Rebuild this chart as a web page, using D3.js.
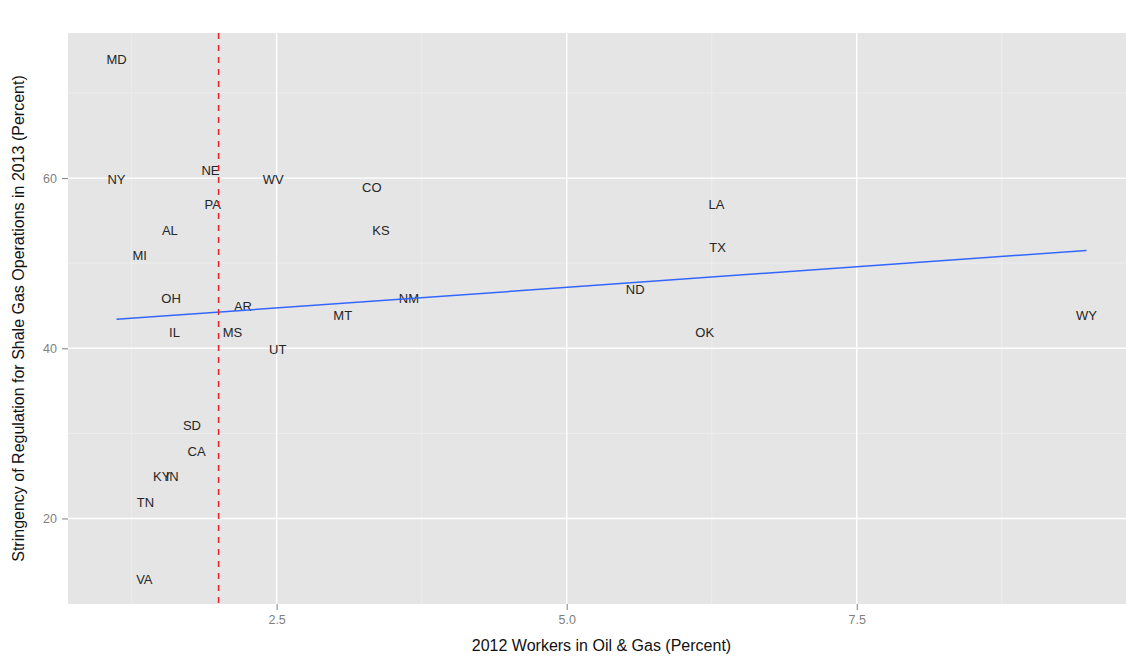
<!DOCTYPE html>
<html><head><meta charset="utf-8">
<script src="https://cdn.jsdelivr.net/npm/d3@7"></script>
<style>body{margin:0;background:#fff;}svg{display:block;font-family:"Liberation Sans",Arial,sans-serif;}</style>
</head><body>
<svg id="c" width="1126" height="662"></svg>
<script>
const states = ["MD","NY","NE","WV","PA","CO","AL","KS","MI","LA","TX","OH","AR","NM","ND","MT","WY","IL","MS","OK","UT","SD","CA","KY","IN","TN","VA"];
const workers = [1.12,1.12,1.93,2.47,1.95,3.32,1.58,3.40,1.32,6.29,6.30,1.59,2.21,3.64,5.59,3.07,9.48,1.62,2.12,6.19,2.51,1.77,1.81,1.51,1.60,1.37,1.36];
const stringency = [74,60,61,60,57,59,54,54,51,57,52,46,45,46,47,44,44,42,42,42,40,31,28,25,25,22,13];
const xTicks = [2.5,5.0,7.5];
const xTickLabels = ["2.5","5.0","7.5"];
const yTicks = [20,40,60];
const yTickLabels = ["20","40","60"];
const fitEnds = [[1.12,43.4],[9.48,51.5]];
const vline = 2;

const svg = d3.select("#c");
const m = {l:68, t:33, r:1135, b:604};
const x = d3.scaleLinear().domain([0.702,9.898]).range([m.l,m.r]);
const y = d3.scaleLinear().domain([9.95,77.05]).range([m.b,m.t]);

svg.append("rect").attr("x",m.l).attr("y",m.t).attr("width",m.r-m.l).attr("height",m.b-m.t).attr("fill","#e5e5e5");
const g = svg.append("g");
const minorX = [1.25,3.75,6.25,8.75], minorY=[30,50,70];
g.selectAll(".mx").data(minorX).enter().append("line").attr("x1",d=>x(d)).attr("x2",d=>x(d)).attr("y1",m.t).attr("y2",m.b).attr("stroke","#f2f2f2").attr("stroke-width",0.6);
g.selectAll(".my").data(minorY).enter().append("line").attr("y1",d=>y(d)).attr("y2",d=>y(d)).attr("x1",m.l).attr("x2",m.r).attr("stroke","#f2f2f2").attr("stroke-width",0.6);
g.selectAll(".Mx").data(xTicks).enter().append("line").attr("x1",d=>x(d)).attr("x2",d=>x(d)).attr("y1",m.t).attr("y2",m.b).attr("stroke","#fff").attr("stroke-width",1.4);
g.selectAll(".My").data(yTicks).enter().append("line").attr("y1",d=>y(d)).attr("y2",d=>y(d)).attr("x1",m.l).attr("x2",m.r).attr("stroke","#fff").attr("stroke-width",1.4);

// axes
const xa = svg.append("g").attr("transform",`translate(0,${m.b})`)
  .call(d3.axisBottom(x).tickValues(xTicks).tickFormat((d,i)=>xTickLabels[i]).tickSize(6).tickPadding(5));
const ya = svg.append("g").attr("transform",`translate(${m.l},0)`)
  .call(d3.axisLeft(y).tickValues(yTicks).tickFormat((d,i)=>yTickLabels[i]).tickSize(6).tickPadding(5));
[xa,ya].forEach(a=>{a.select(".domain").remove();a.selectAll("line").attr("stroke","#7f7f7f");
  a.selectAll("text").attr("fill","#7f7f7f").style("font-size","12.5px");});

// text labels
svg.append("g").selectAll("text").data(states).enter().append("text")
  .attr("x",(d,i)=>x(workers[i])).attr("y",(d,i)=>y(stringency[i]))
  .attr("text-anchor","middle").attr("dy","0.42em").attr("fill","#262626").style("font-size","13px").text(d=>d);

// fit line
svg.append("line").attr("x1",x(fitEnds[0][0])).attr("y1",y(fitEnds[0][1])).attr("x2",x(fitEnds[1][0])).attr("y2",y(fitEnds[1][1]))
  .attr("stroke","#3366ff").attr("stroke-width",1.5);
// vline
svg.append("line").attr("x1",x(vline)).attr("x2",x(vline)).attr("y1",m.t).attr("y2",m.b)
  .attr("stroke","#e8252a").attr("stroke-width",1.6).attr("stroke-dasharray","6,6");

svg.append("text").attr("x",(m.l+m.r)/2).attr("y",651).attr("text-anchor","middle").style("font-size","16px").attr("fill","#111")
  .text("2012 Workers in Oil & Gas (Percent)");
svg.append("text").attr("transform",`translate(24,${(m.t+m.b)/2}) rotate(-90)`).attr("text-anchor","middle").style("font-size","16px").attr("fill","#111")
  .text("Stringency of Regulation for Shale Gas Operations in 2013 (Percent)");
</script>
</body></html>
